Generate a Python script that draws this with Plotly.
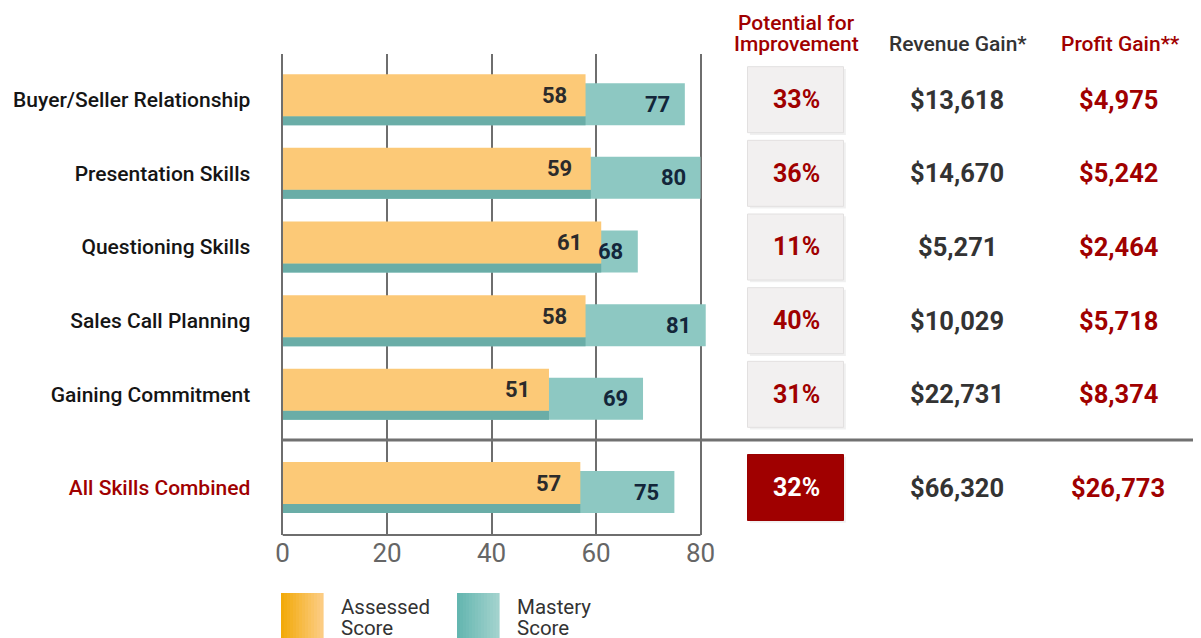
import plotly.graph_objects as go

# ---------------- data ----------------
skills = ["Buyer/Seller Relationship", "Presentation Skills", "Questioning Skills",
          "Sales Call Planning", "Gaining Commitment"]
assessed = [58, 59, 61, 58, 51]
mastery = [77, 80, 68, 81, 69]
improvement = ["33%", "36%", "11%", "40%", "31%"]
revenue = ["$13,618", "$14,670", "$5,271", "$10,029", "$22,731"]
profit = ["$4,975", "$5,242", "$2,464", "$5,718", "$8,374"]

combined_label = ["All Skills Combined"]
combined_assessed = [57]
combined_mastery = [75]
combined_improvement = ["32%"]
combined_revenue = ["$66,320"]
combined_profit = ["$26,773"]

x_ticks = [0, 20, 40, 60, 80]
headers = ["Revenue Gain*", "Profit Gain**"]
legend_names = ["Assessed", "Mastery"]

# ---------------- style ----------------
# the page body has an 8px margin, so the figure is sized to fit the window
PAD = 8
W, H = 1201 - PAD, 638 - PAD
FONT = "Roboto"
ORANGE = "#FCC977"
TEAL = "#8DC8C2"
TEAL_DARK = "#6AADA7"
RED = "#A00000"
GRID = "#6E6E6E"
DARK = "#333333"


def px_x(p):
    return (p - PAD) / W


def px_y(p):
    return 1 - (p - PAD) / H


x_dom = [px_x(282.5), px_x(282.5 + 82 * 5.225)]
top_dom = [px_y(440), px_y(54)]
bot_dom = [px_y(535), px_y(440)]

BW = 0.57
OFF = 0.061

fig = go.Figure()


def add_bars(cats, a_vals, m_vals, xa, ya):
    fig.add_trace(go.Bar(y=cats, x=m_vals, orientation="h", marker=dict(color=TEAL, line=dict(width=0)),
                         width=BW, offset=-BW / 2 + OFF, xaxis=xa, yaxis=ya, showlegend=False,
                         hoverinfo="x"))
    fig.add_trace(go.Bar(y=cats, x=a_vals, orientation="h", marker=dict(color=TEAL_DARK, line=dict(width=0)),
                         width=2 * OFF, offset=BW / 2 - OFF, xaxis=xa, yaxis=ya, showlegend=False,
                         hoverinfo="skip"))
    fig.add_trace(go.Bar(y=cats, x=a_vals, orientation="h", marker=dict(color=ORANGE, line=dict(width=0)),
                         width=BW, offset=-BW / 2 - OFF, xaxis=xa, yaxis=ya, showlegend=False,
                         hoverinfo="x"))


add_bars(skills, assessed, mastery, "x", "y")
add_bars(combined_label, combined_assessed, combined_mastery, "x2", "y2")

annotations = []
shapes = []


def bar_labels(cats, a_vals, m_vals, xr, yr):
    for c, a, m in zip(cats, a_vals, m_vals):
        annotations.append(dict(x=a, y=c, xref=xr, yref=yr, text=str(a), showarrow=False,
                                xanchor="right", yanchor="middle", xshift=-17, yshift=4.5,
                                font=dict(family=FONT, size=22, color="#2B2B2B", weight="bold")))
        annotations.append(dict(x=m, y=c, xref=xr, yref=yr, text=str(m), showarrow=False,
                                xanchor="right", yanchor="middle", xshift=-13, yshift=-4.5,
                                font=dict(family=FONT, size=22, color="#13263A", weight="bold")))


bar_labels(skills, assessed, mastery, "x", "y")
bar_labels(combined_label, combined_assessed, combined_mastery, "x2", "y2")

BOX_X0, BOX_X1 = px_x(747.5), px_x(843.5)
COL_PCT, COL_REV, COL_PROF = px_x(796), px_x(957), px_x(1118)
BOX_H = 0.448


def right_cols(imp, rev, prof, yr, highlight):
    for i, (p, r, q) in enumerate(zip(imp, rev, prof)):
        shapes.append(dict(type="rect", xref="paper", yref=yr, x0=BOX_X0 + 0.002, x1=BOX_X1 + 0.002,
                           y0=i - BOX_H + 0.03, y1=i + BOX_H + 0.03,
                           fillcolor="rgba(0,0,0,0.06)", line=dict(width=0), layer="below"))
        shapes.append(dict(type="rect", xref="paper", yref=yr, x0=BOX_X0, x1=BOX_X1,
                           y0=i - BOX_H, y1=i + BOX_H,
                           fillcolor=RED if highlight else "#F2F0F0",
                           line=dict(width=1, color="#9A0000" if highlight else "#E2E0E0"),
                           layer="below"))
        annotations.append(dict(x=COL_PCT, y=i, xref="paper", yref=yr, text=p, showarrow=False,
                                xanchor="center", yanchor="middle",
                                font=dict(family=FONT, size=25, weight="bold",
                                          color="#FFFFFF" if highlight else RED)))
        annotations.append(dict(x=COL_REV, y=i, xref="paper", yref=yr, text=r, showarrow=False,
                                xanchor="center", yanchor="middle",
                                font=dict(family=FONT, size=25.5, weight="bold", color=DARK)))
        annotations.append(dict(x=COL_PROF, y=i, xref="paper", yref=yr, text=q, showarrow=False,
                                xanchor="center", yanchor="middle",
                                font=dict(family=FONT, size=25.5, weight="bold", color=RED)))


right_cols(improvement, revenue, profit, "y", False)
right_cols(combined_improvement, combined_revenue, combined_profit, "y2", True)

# headers
hdr = [("Potential for", 796, 23, RED), ("Improvement", 796, 44, RED),
       (headers[0], 958, 44, DARK), (headers[1], 1120, 44, RED)]
for txt, xp, yp, col in hdr:
    annotations.append(dict(x=px_x(xp), y=px_y(yp), xref="paper", yref="paper", text=txt,
                            xanchor="center", yanchor="middle", showarrow=False,
                            font=dict(family=FONT, size=21, color=col, weight=500)))

# separator + bottom axis line
shapes.append(dict(type="line", xref="paper", yref="paper", x0=x_dom[0], x1=1, y0=bot_dom[1], y1=bot_dom[1],
                   line=dict(color="#717171", width=3)))
shapes.append(dict(type="line", xref="x2", yref="y2 domain", x0=0, x1=x_ticks[-1], y0=0, y1=0,
                   line=dict(color=GRID, width=2)))


# legend (gradient swatches)
def swatch(x0, c0, c1, n=14):
    w = 42.0
    for k in range(n):
        t = k / (n - 1)
        col = "rgb({},{},{})".format(*[round(a + (b - a) * t) for a, b in zip(c0, c1)])
        shapes.append(dict(type="rect", xref="paper", yref="paper",
                           x0=px_x(x0 + w * k / n), x1=px_x(x0 + w * (k + 1) / n + 0.6),
                           y0=px_y(638), y1=px_y(593), fillcolor=col, line=dict(width=0)))


swatch(281, (242, 170, 10), (252, 204, 130))
swatch(457, (100, 182, 176), (162, 210, 205))
for xpos, name in zip([339, 515], legend_names):
    annotations.append(dict(x=px_x(xpos), y=px_y(607), xref="paper", yref="paper", text=name,
                            xanchor="left", yanchor="middle", showarrow=False,
                            font=dict(family=FONT, size=20.5, color=DARK)))
    annotations.append(dict(x=px_x(xpos), y=px_y(628), xref="paper", yref="paper", text="Score",
                            xanchor="left", yanchor="middle", showarrow=False,
                            font=dict(family=FONT, size=20.5, color=DARK)))

xcommon = dict(range=[0, 82], showgrid=True, gridcolor=GRID, gridwidth=2, zeroline=False,
               tickvals=x_ticks, domain=x_dom, fixedrange=True)
ycommon = dict(type="category", showgrid=False, zeroline=False, showline=True, linecolor=GRID,
               linewidth=2, ticks="outside", ticklen=26, tickcolor="rgba(0,0,0,0)", fixedrange=True)

fig.update_layout(
    width=W, height=H, margin=dict(l=0, r=0, t=0, b=0, autoexpand=False),
    paper_bgcolor="white", plot_bgcolor="white",
    barmode="overlay", showlegend=False,
    font=dict(family=FONT),
    xaxis=dict(**xcommon, anchor="y", showticklabels=False),
    xaxis2=dict(**xcommon, anchor="y2", showticklabels=True, ticks="", ticklen=0,
                tickfont=dict(family=FONT, size=26, color="#666666")),
    yaxis=dict(**ycommon, domain=top_dom, anchor="x", categoryarray=skills, categoryorder="array",
               range=[4.62, -0.62], tickfont=dict(family=FONT, size=21, color="#151515", weight=500)),
    yaxis2=dict(**ycommon, domain=bot_dom, anchor="x2", categoryarray=combined_label,
                categoryorder="array", range=[0.645, -0.645],
                tickfont=dict(family=FONT, size=21, color=RED, weight=500)),
    annotations=annotations, shapes=shapes,
)

fig.write_html("out.html")
